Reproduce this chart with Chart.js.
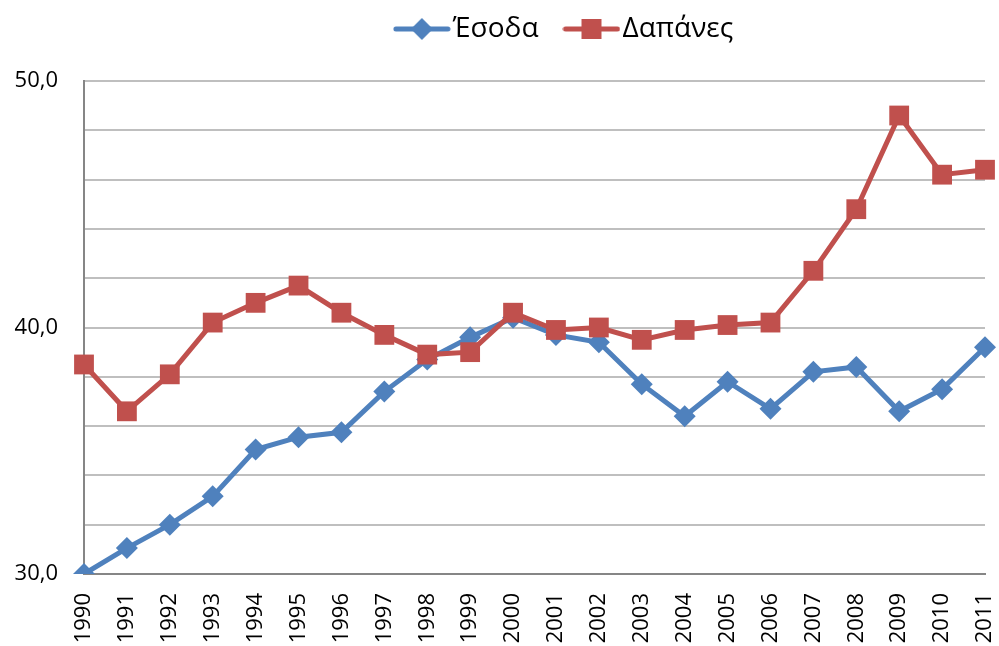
<!DOCTYPE html>
<html>
<head>
<meta charset="utf-8">
<script src="https://cdn.jsdelivr.net/npm/chart.js@4/dist/chart.umd.min.js"></script>
<style>
  html, body { margin: 0; padding: 0; background: #fff; }
  #wrap { width: 999px; height: 646px; position: relative; }
</style>
</head>
<body>
<div id="wrap"><canvas id="chart"></canvas></div>
<script>
const years = ['1990','1991','1992','1993','1994','1995','1996','1997','1998','1999','2000',
               '2001','2002','2003','2004','2005','2006','2007','2008','2009','2010','2011'];
const esoda = [30.0, 31.05, 32.0, 33.15, 35.05, 35.55, 35.75, 37.4, 38.7, 39.6, 40.4,
               39.7, 39.4, 37.7, 36.4, 37.8, 36.7, 38.2, 38.4, 36.6, 37.5, 39.2];
const dapanes = [38.5, 36.6, 38.1, 40.2, 41.0, 41.7, 40.6, 39.7, 38.9, 39.0, 40.6,
                 39.9, 40.0, 39.5, 39.9, 40.1, 40.2, 42.3, 44.8, 48.6, 46.2, 46.4];

const blue = '#4F81BD';
const red = '#C0504D';
const fontFam = "'Open Sans', 'DejaVu Sans', sans-serif";

// εικονίδιο υπομνήματος: γραμμή με δείκτη στη μέση
function legendIcon(color, shape) {
    const c = document.createElement('canvas');
    c.width = 58; c.height = 24;
    const g = c.getContext('2d');
    g.strokeStyle = color; g.lineWidth = 5; g.lineCap = 'round';
    g.beginPath(); g.moveTo(3, 12); g.lineTo(55, 12); g.stroke();
    g.fillStyle = color;
    if (shape === 'diamond') {
        g.beginPath(); g.moveTo(29, 1); g.lineTo(40, 12); g.lineTo(29, 23); g.lineTo(18, 12); g.closePath(); g.fill();
    } else {
        g.fillRect(19, 2, 20, 20);
    }
    return c;
}
const icons = [legendIcon(blue, 'diamond'), legendIcon(red, 'square')];

// μετακίνηση υπομνήματος (δεξιά και πάνω)
const legendShift = {
    id: 'legendShift',
    afterLayout(chart) {
        const lg = chart.legend;
        lg.left += 76; lg.right += 76;
        lg.top -= 28; lg.bottom -= 28;
    }
};

new Chart(document.getElementById('chart'), {
    type: 'line',
    data: {
        labels: years,
        datasets: [
            { label: 'Δαπάνες', data: dapanes, borderColor: red, backgroundColor: red,
              borderWidth: 5, pointStyle: 'rect', pointRadius: 14, pointHoverRadius: 14,
              pointBorderWidth: 0, tension: 0 },
            { label: 'Έσοδα', data: esoda, borderColor: blue, backgroundColor: blue,
              borderWidth: 5, pointStyle: 'rectRot', pointRadius: 11, pointHoverRadius: 11,
              pointBorderWidth: 0, tension: 0 }
        ]
    },
    options: {
        responsive: true,
        maintainAspectRatio: false,
        animation: false,
        layout: { padding: { left: 0, right: 13, top: 7, bottom: 0 } },
        plugins: {
            tooltip: { enabled: false },
            legend: {
                position: 'top',
                reverse: true,
                labels: {
                    color: '#000',
                    font: { family: fontFam, size: 28 },
                    usePointStyle: true,
                    pointStyleWidth: 34,
                    padding: 36,
                    generateLabels(chart) {
                        return chart.data.datasets.map((ds, i) => ({
                            text: ds.label,
                            pointStyle: i === 0 ? icons[1] : icons[0],
                            fillStyle: ds.borderColor,
                            strokeStyle: ds.borderColor,
                            lineWidth: 0,
                            hidden: false,
                            datasetIndex: i,
                            fontColor: '#000'
                        }));
                    }
                }
            }
        },
        scales: {
            x: {
                offset: false,
                grid: { display: false, drawTicks: false },
                border: { color: '#868686', width: 2 },
                ticks: {
                    color: '#000',
                    font: { family: fontFam, size: 22 },
                    maxRotation: 90, minRotation: 90,
                    autoSkip: false,
                    padding: 19
                },
                afterFit(s) { s.height = 72; s.paddingRight = 0; s.paddingLeft = 0; }
            },
            y: {
                min: 30, max: 50,
                grid: { color: '#BFBFBF', lineWidth: 2, drawTicks: false },
                border: { color: '#868686', width: 2 },
                ticks: {
                    stepSize: 2,
                    color: '#000',
                    font: { family: fontFam, size: 22 },
                    padding: 26,
                    callback: v => (v % 10 === 0 ? v.toFixed(1).replace('.', ',') : '')
                },
                afterFit(s) { s.width = 84; }
            }
        }
    },
    plugins: [legendShift]
});
</script>
</body>
</html>
